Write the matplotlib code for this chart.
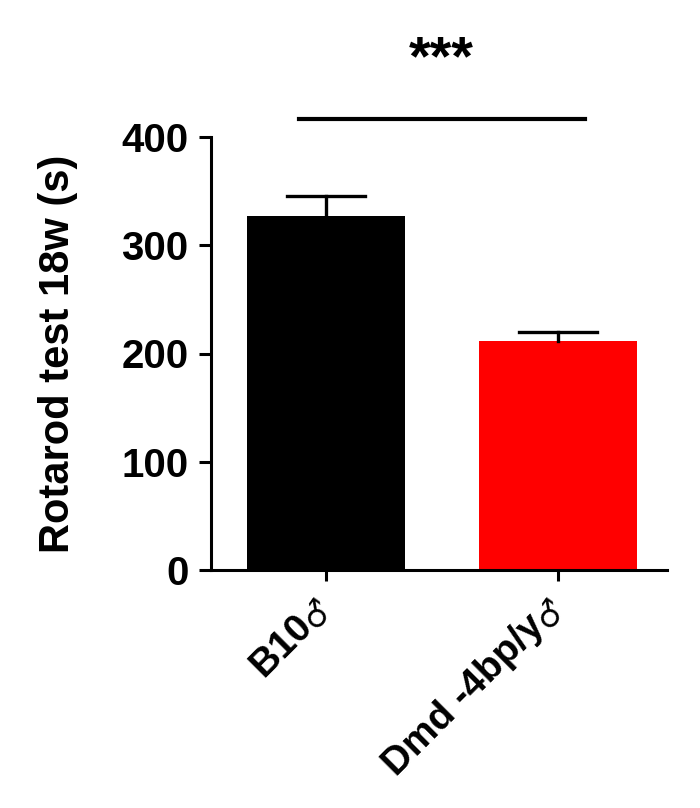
import matplotlib.pyplot as plt

plt.rcParams['font.family'] = ['Liberation Sans', 'DejaVu Sans']

# Data
groups = ["B10", "Dmd -4bp/y"]
means = [327, 211.5]
sem = [18.5, 8.5]
colors = ["black", "red"]
sig_label = "***"

fig = plt.figure(figsize=(7, 8.08), dpi=100)
ax = fig.add_axes([0.301, 0.2946, 0.652, 0.5358])

x = list(range(len(groups)))
ax.bar(x, means, width=0.68, color=colors)
# upper error bars only
for xi, m, e in zip(x, means, sem):
    ax.plot([xi, xi], [m, m + e], color="black", lw=2.4)
    ax.plot([xi - 0.168, xi + 0.168], [m + e, m + e], color="black", lw=2.4)

ax.set_xlim(-0.496, 1.47)
ax.set_ylim(0, 400)
ax.set_yticks([0, 100, 200, 300, 400])
ax.set_xticks(x)
ax.set_xticklabels([])
ax.tick_params(axis="y", labelsize=29, width=2.2, length=9, pad=7)
ax.tick_params(axis="x", width=2.2, length=8)
for lab in ax.get_yticklabels():
    lab.set_fontweight("bold")
ax.set_ylabel("Rotarod test 18w (s)", fontsize=30, fontweight="bold")
ax.yaxis.set_label_coords(-0.29, 0.5)

for side in ["top", "right"]:
    ax.spines[side].set_visible(False)
for side in ["left", "bottom"]:
    ax.spines[side].set_linewidth(2.2)

# group labels: bold rotated text plus a thin raised male sign
for xi, g in zip(x, groups):
    ax.annotate(g, xy=(xi, 0), xycoords="data", xytext=(-23, -27),
                textcoords="offset points", rotation=45, ha="right", va="top",
                rotation_mode="anchor", fontsize=28, fontweight="bold",
                annotation_clip=False)
    ax.annotate("♂", xy=(xi, 0), xycoords="data", xytext=(-6, -31),
                textcoords="offset points", ha="center", va="center",
                rotation=55, rotation_mode="anchor",
                fontsize=23, family=["DejaVu Sans"], fontweight="normal",
                annotation_clip=False)

# significance bar
ax.plot([-0.116, 1.116], [416.5, 416.5], color="black", lw=3, clip_on=False)
ax.text(0.496, 471, sig_label, ha="center", va="center", fontsize=40,
        fontweight="bold", clip_on=False)

fig.savefig("out.png", dpi=100)
